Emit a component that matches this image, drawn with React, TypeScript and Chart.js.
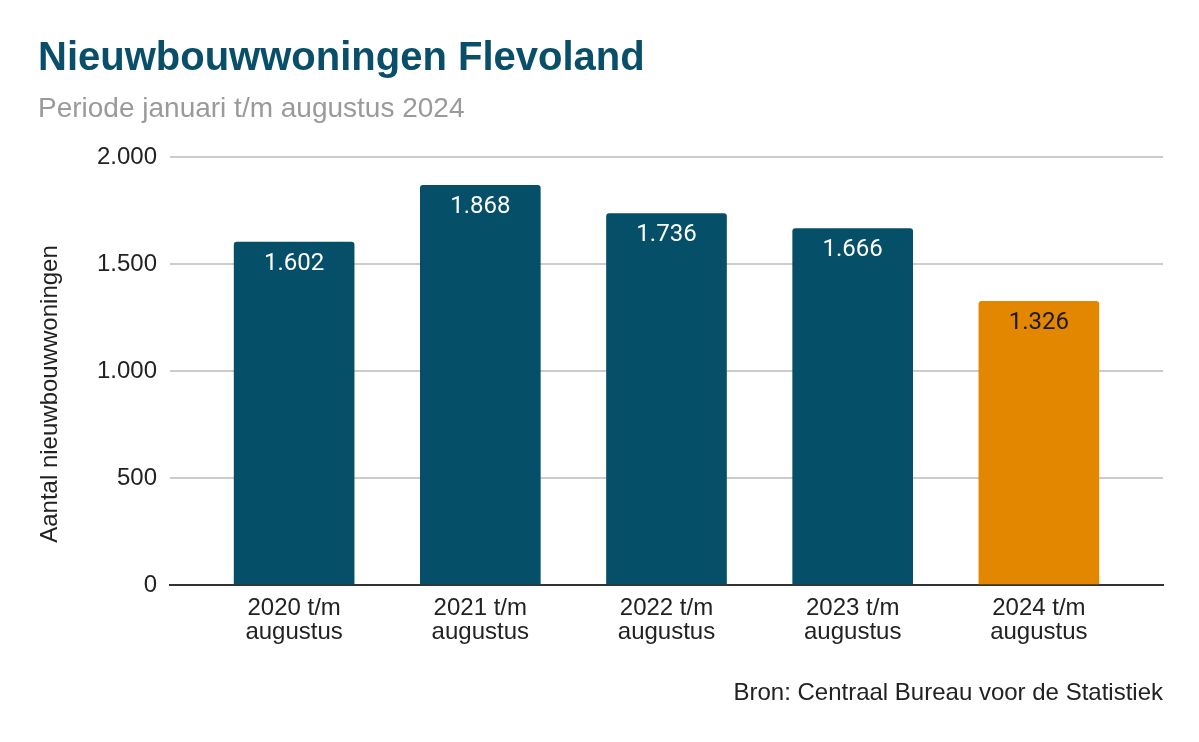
import React, { useEffect, useRef } from "react";
import { Chart, registerables } from "chart.js";

Chart.register(...registerables);

const categories: string[][] = [
  ["2020 t/m", "augustus"],
  ["2021 t/m", "augustus"],
  ["2022 t/m", "augustus"],
  ["2023 t/m", "augustus"],
  ["2024 t/m", "augustus"],
];
const values: number[] = [1602, 1868, 1736, 1666, 1326];
const barColors: string[] = ["#054f69", "#054f69", "#054f69", "#054f69", "#e38600"];
const labelColors: string[] = ["#ffffff", "#ffffff", "#ffffff", "#ffffff", "#1a1a1a"];
const yTicks: number[] = [0, 500, 1000, 1500, 2000];

const titleText = "Nieuwbouwwoningen Flevoland";
const subtitleText = "Periode januari t/m augustus 2024";
const yTitleText = "Aantal nieuwbouwwoningen";
const sourceText = "Bron: Centraal Bureau voor de Statistiek";

const fmt = (v: number) => String(v).replace(/\B(?=(\d{3})+(?!\d))/g, ".");
const SANS = "Arial, 'Liberation Sans', sans-serif";

const textPlugin = {
  id: "texts",
  afterDraw(chart: any) {
    const ctx = chart.ctx;
    ctx.save();
    ctx.textAlign = "left";
    ctx.textBaseline = "alphabetic";
    ctx.fillStyle = "#0a4f6a";
    ctx.font = `bold 40px ${SANS}`;
    ctx.fillText(titleText, 38, 70);
    ctx.fillStyle = "#9a9a9a";
    ctx.font = `28px ${SANS}`;
    ctx.fillText(subtitleText, 38, 117);
    ctx.fillStyle = "#222222";
    ctx.font = `24px ${SANS}`;
    ctx.textAlign = "right";
    ctx.fillText(sourceText, 1163, 700);
    ctx.translate(57, 394);
    ctx.rotate(-Math.PI / 2);
    ctx.textAlign = "center";
    ctx.fillText(yTitleText, 0, 0);
    ctx.restore();
  },
};

const dataLabelPlugin = {
  id: "dataLabels",
  afterDatasetsDraw(chart: any) {
    const ctx = chart.ctx;
    const meta = chart.getDatasetMeta(0);
    ctx.save();
    ctx.font = `24px Roboto, sans-serif`;
    ctx.textAlign = "center";
    ctx.textBaseline = "middle";
    meta.data.forEach((bar: any, i: number) => {
      ctx.fillStyle = labelColors[i];
      ctx.fillText(fmt(values[i]), bar.x, bar.y + 22);
    });
    ctx.restore();
  },
};

export default function App() {
  const ref = useRef<HTMLCanvasElement | null>(null);
  useEffect(() => {
    document.body.style.margin = "0";
    const chart = new Chart(ref.current as HTMLCanvasElement, {
      type: "bar",
      data: {
        datasets: [
          {
            data: values.map((v, i) => ({ x: i, y: v })),
            backgroundColor: barColors,
            barThickness: 120,
            borderRadius: 3,
            borderSkipped: "bottom",
          },
        ],
      },
      options: {
        animation: false,
        responsive: false,
        layout: { padding: { top: 157, right: 36, bottom: 0, left: 0 } },
        plugins: { legend: { display: false }, tooltip: { enabled: false }, title: { display: false } },
        scales: {
          x: {
            type: "linear",
            offset: false,
            min: -2 / 3,
            max: 4 + 2 / 3,
            afterBuildTicks: (s: any) => {
              s.ticks = categories.map((_, i) => ({ value: i }));
            },
            afterFit: (s: any) => {
              s.height = 157;
            },
            grid: { display: false, drawTicks: false, offset: false },
            border: { display: true, color: "#333333", width: 2 },
            ticks: {
              padding: 11,
              color: "#222222",
              font: { family: SANS, size: 24, lineHeight: 1.0 },
              maxRotation: 0,
              autoSkip: false,
              callback: (v: any) => categories[Math.round(Number(v))],
            },
          },
          y: {
            min: 0,
            max: 2000,
            afterBuildTicks: (s: any) => {
              s.ticks = yTicks.map((v) => ({ value: v }));
            },
            afterFit: (s: any) => {
              s.width = 170;
            },
            grid: { color: "#cccccc", lineWidth: 2, drawTicks: false },
            border: { display: false },
            ticks: {
              padding: 13,
              color: "#222222",
              font: { family: SANS, size: 24 },
              callback: (v: any) => fmt(Number(v)),
            },
          },
        },
      },
      plugins: [textPlugin, dataLabelPlugin],
    } as any);
    return () => chart.destroy();
  }, []);
  return (
    <div style={{ width: 1199, height: 742 }}>
      <canvas ref={ref} width={1199} height={742} />
    </div>
  );
}
